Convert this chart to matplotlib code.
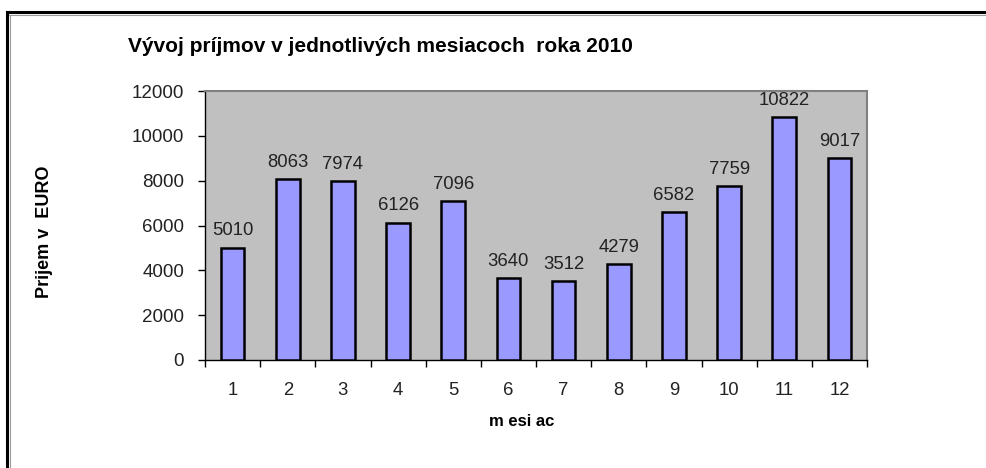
import matplotlib
matplotlib.use("Agg")
import matplotlib.pyplot as plt
from matplotlib.lines import Line2D

months = [1, 2, 3, 4, 5, 6, 7, 8, 9, 10, 11, 12]
income = [5010, 8063, 7974, 6126, 7096, 3640, 3512, 4279, 6582, 7759, 10822, 9017]
yticks = [0, 2000, 4000, 6000, 8000, 10000, 12000]

plt.rcParams["font.family"] = ["Liberation Sans", "DejaVu Sans"]

fig = plt.figure(figsize=(9.87, 4.68), dpi=100)
ax = fig.add_axes([205 / 987, 1 - 360 / 468, 662 / 987, 269 / 468])

ax.set_facecolor("#c0c0c0")
bars = ax.bar(months, income, width=0.43, color="#9999ff",
              edgecolor="black", linewidth=1.8, zorder=3)
for b, v in zip(bars, income):
    ax.annotate(str(v), (b.get_x() + b.get_width() / 2, v),
                xytext=(0, 6), textcoords="offset points",
                ha="center", va="bottom", fontsize=13.3, color="#222222")

ax.set_xlim(0.5, 12.5)
ax.set_ylim(0, 12000)
ax.set_yticks(yticks)
ax.set_yticklabels([str(t) for t in yticks], fontsize=13.5, color="#222222")

# ticks between categories, labels at centres
ax.set_xticks([m + 0.5 for m in months[:-1]] + [0.5, 12.5])
ax.set_xticklabels([])
ax.set_xticks(months, minor=True)
ax.set_xticklabels([str(m) for m in months], minor=True, fontsize=13.3,
                   color="#222222")
ax.tick_params(axis="x", which="minor", length=0, pad=16)
ax.tick_params(axis="x", which="major", length=5, width=1, direction="out")
ax.tick_params(axis="y", length=5, width=1, direction="out", pad=10)

for side in ("top", "right"):
    ax.spines[side].set_color("#808080")
    ax.spines[side].set_linewidth(1.5)
for side in ("left", "bottom"):
    ax.spines[side].set_color("black")
    ax.spines[side].set_linewidth(1)

fig.text(128 / 987, 1 - 47 / 468, "Vývoj príjmov v jednotlivých mesiacoch  roka 2010",
         fontsize=15, fontweight="bold", ha="left", va="center")
fig.text(45 / 987, 1 - 232 / 468, "Prijem v  EURO", rotation=90,
         fontsize=13, fontweight="bold", ha="center", va="center")
fig.text(522 / 987, 1 - 421 / 468, "m esi ac", fontsize=12,
         fontweight="bold", ha="center", va="center")

# outer frame
fig.add_artist(Line2D([7 / 987, 1.0], [1 - 12 / 468, 1 - 12 / 468],
                      color="black", lw=2.2, transform=fig.transFigure))
fig.add_artist(Line2D([7 / 987, 1.0], [1 - 14.5 / 468, 1 - 14.5 / 468],
                      color="#9a9a9a", lw=0.8, transform=fig.transFigure))
fig.add_artist(Line2D([7 / 987, 7 / 987], [0, 1 - 12 / 468],
                      color="black", lw=2.2, transform=fig.transFigure))
fig.add_artist(Line2D([10 / 987, 10 / 987], [0, 1 - 14.5 / 468],
                      color="#9a9a9a", lw=0.8, transform=fig.transFigure))

fig.savefig("out.png", dpi=100)
